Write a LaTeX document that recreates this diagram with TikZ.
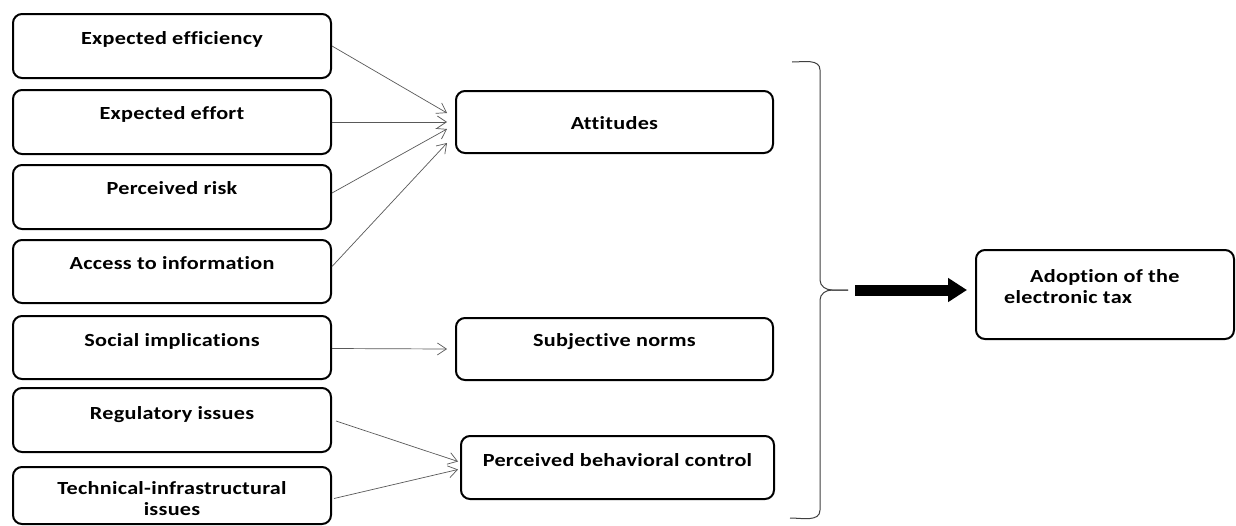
\documentclass[tikz,border=0pt]{standalone}
\usepackage{fontspec}
\setmainfont{Carlito}
\newfontfamily\labfont[FakeStretch=1.2,Ligatures=NoCommon,LetterSpace=1.5]{Carlito}
\usetikzlibrary{arrows.meta,calc}
\begin{document}
\begin{tikzpicture}[x=1pt,y=-1pt,
  box/.style={draw=black,line width=2pt,rounded corners=9pt,anchor=north west,inner sep=0pt},
  lab/.style={font=\labfont\bfseries\fontsize{18.5}{21}\selectfont,inner sep=0pt,anchor=mid,text=black},
  conn/.style={draw=black!65,line width=0.7pt,-{Straight Barb[length=9pt,width=12pt,line width=0.7pt]}},
  bracestyle/.style={draw=black!75,line width=1pt}]
\path[fill=white] (0,0) rectangle (1236,525);
% left boxes
\node[box,minimum width=318pt,minimum height=64pt] (b1) at (12,13) {};
\node[box,minimum width=318pt,minimum height=64pt] (b2) at (12,89) {};
\node[box,minimum width=318pt,minimum height=64pt] (b3) at (12,164) {};
\node[box,minimum width=318pt,minimum height=63pt] (b4) at (12,239) {};
\node[box,minimum width=318pt,minimum height=63pt] (b5) at (12,315) {};
\node[box,minimum width=318pt,minimum height=64pt] (b6) at (12,387) {};
\node[box,minimum width=318pt,minimum height=57pt] (b7) at (12,466) {};
\node[lab] (t1) at ([yshift=-29pt]b1.north) {Expected efficiency};
\node[lab] (t2) at ([yshift=-28pt]b2.north) {Expected effort};
\node[lab] (t3) at ([yshift=-28pt]b3.north) {Perceived risk};
\node[lab] (t4) at ([yshift=-28pt]b4.north) {Access to information};
\node[lab] (t5) at ([yshift=-29pt]b5.north) {Social implications};
\node[lab] (t6) at ([yshift=-30pt]b6.north) {Regulatory issues};
\node[lab,anchor=center,align=center] (t7) at ([yshift=-33pt]b7.north) {Technical-infrastructural\\issues};
% middle boxes
\node[box,minimum width=317pt,minimum height=62pt] (att) at (455,90) {};
\node[box,minimum width=317pt,minimum height=62pt] (sub) at (455,317) {};
\node[box,minimum width=313pt,minimum height=63pt] (pbc) at (460,435) {};
\node[lab] (tatt) at ([yshift=-37pt]att.north) {Attitudes};
\node[lab] (tsub) at ([yshift=-27pt]sub.north) {Subjective norms};
\node[lab] (tpbc) at ([yshift=-29pt]pbc.north) {Perceived behavioral control};
% outcome
\node[box,minimum width=258pt,minimum height=89pt] (adopt) at (975,249) {};
\node[lab,anchor=mid west] (ad1) at (1030,280) {Adoption of the};
\node[lab,anchor=mid west] (ad2) at (1004,301) {electronic tax};
% connectors
\draw[conn] (b1.east) -- ($(att.west)+(-8,-9)$);
\draw[conn] (b2.east) -- ($(att.west)+(-8,0)$);
\draw[conn] ($(b3.east)+(0,-4)$) -- ($(att.west)+(-8,7)$);
\draw[conn] ($(b4.east)+(0,-5)$) -- ($(att.west)+(-8,21)$);
\draw[conn] ($(b5.east)+(0,1)$) -- ($(sub.west)+(-8,0)$);
\draw[conn] ($(b6.east)+(4,1)$) -- ($(pbc.west)+(-2,-6)$);
\draw[conn] ($(b7.east)+(2,3)$) -- ($(pbc.west)+(-2,2)$);
% brace
\coordinate (btop) at (792,62);
\coordinate (bbot) at (790,518);
\coordinate (cusp) at (848,290);
\draw[bracestyle] (btop) to[out=0,in=90] (820,70) -- (820,280)
   to[out=-90,in=180] (832,290) -- (cusp);
\draw[bracestyle] (cusp) -- (832,290) to[out=180,in=90] (820,300) -- (820,510)
   to[out=-90,in=0] (bbot);
% thick arrow
\draw[line width=11pt,-{Triangle[length=19pt,width=23pt]},shorten <=7pt,shorten >=8pt] (cusp) -- (adopt.west |- cusp);
\end{tikzpicture}
\end{document}
